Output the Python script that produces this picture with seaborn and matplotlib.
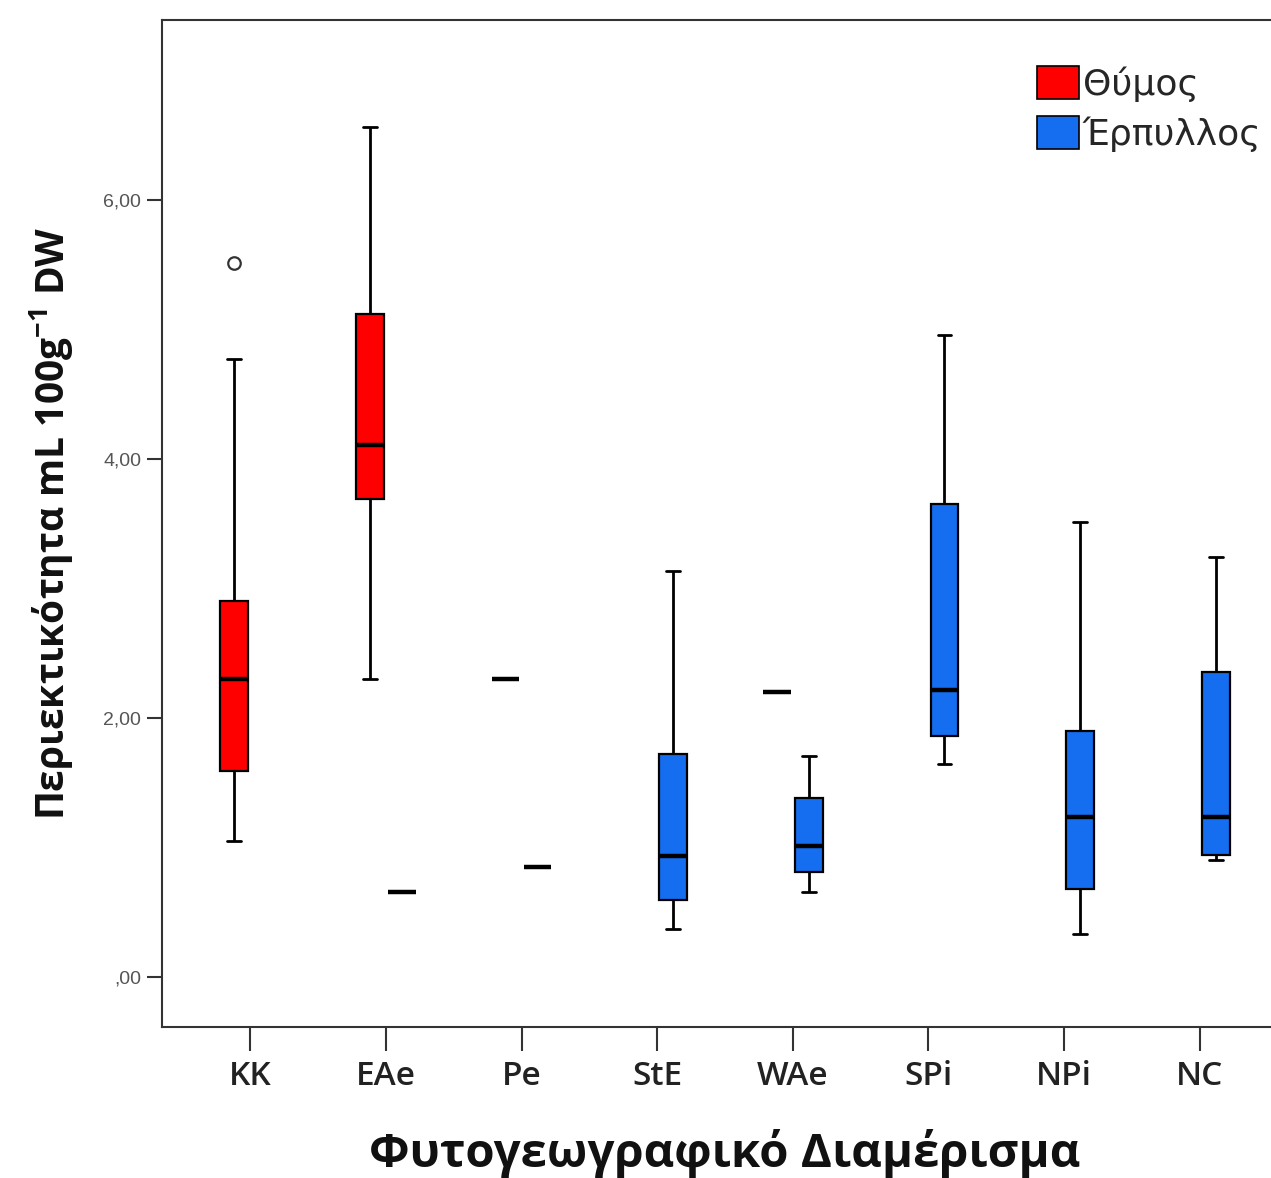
import pandas as pd
import matplotlib
matplotlib.use("Agg")
import matplotlib.pyplot as plt
import seaborn as sns

# Τιμές όπως διαβάζονται από το γράφημα (mL 100g-1 DW)
regions = ["KK", "EAe", "Pe", "StE", "WAe", "SPi", "NPi", "NC"]
species = ["Θύμος", "Έρπυλλος"]

kk_thymus = [1.05, 1.30, 1.59, 2.00, 2.30, 2.60, 2.90, 4.77, 5.51]
eae_thymus = [2.30, 3.69, 4.11, 5.12, 6.56]
eae_serpyllum = [0.65]
pe_thymus = [2.30]
pe_serpyllum = [0.85]
ste_serpyllum = [0.37, 0.59, 0.93, 1.72, 3.13]
wae_thymus = [2.20]
wae_serpyllum = [0.65, 0.81, 1.01, 1.38, 1.70]
spi_serpyllum = [1.64, 1.86, 2.21, 3.65, 4.96]
npi_serpyllum = [0.33, 0.68, 1.23, 1.90, 3.51]
nc_serpyllum = [0.90, 0.94, 1.23, 2.35, 3.24]

groups = [
    ("KK", "Θύμος", kk_thymus),
    ("EAe", "Θύμος", eae_thymus),
    ("EAe", "Έρπυλλος", eae_serpyllum),
    ("Pe", "Θύμος", pe_thymus),
    ("Pe", "Έρπυλλος", pe_serpyllum),
    ("StE", "Έρπυλλος", ste_serpyllum),
    ("WAe", "Θύμος", wae_thymus),
    ("WAe", "Έρπυλλος", wae_serpyllum),
    ("SPi", "Έρπυλλος", spi_serpyllum),
    ("NPi", "Έρπυλλος", npi_serpyllum),
    ("NC", "Έρπυλλος", nc_serpyllum),
]
rows = []
for reg, sp, vals in groups:
    for v in vals:
        rows.append({"region": reg, "species": sp, "value": v})
df = pd.DataFrame(rows)

sns.set_style("white")
plt.rcParams["font.family"] = ["Open Sans", "DejaVu Sans"]
plt.rcParams["mathtext.default"] = "regular"

fig = plt.figure(figsize=(12.71, 11.78), dpi=100)
ax = fig.add_axes([162 / 1271, 1 - 1027 / 1178, (1288 - 162) / 1271, (1027 - 20) / 1178])

palette = {"Θύμος": "#ff0000", "Έρπυλλος": "#156ef0"}
sns.boxplot(data=df, x="region", y="value", hue="species",
            order=regions, hue_order=species, palette=palette,
            width=0.47, gap=0.13, dodge=True, linecolor="black", linewidth=1.6,
            saturation=1,
            medianprops=dict(linewidth=3.2, color="black"),
            whiskerprops=dict(linewidth=2.0),
            capprops=dict(linewidth=2.0),
            flierprops=dict(marker="o", markersize=9, markerfacecolor="white",
                            markeredgecolor="#333333", markeredgewidth=1.6),
            ax=ax)

ax.set_xlim(-0.65, 7.65)
ax.set_ylim(-0.39, 7.39)
ax.set_yticks([0, 2, 4, 6])
ax.set_yticklabels([",00", "2,00", "4,00", "6,00"], fontfamily="Liberation Sans",
                   fontsize=14, color="#555555")
ax.tick_params(axis="y", length=11, width=1.5, color="#333333", pad=4, left=True)
ax.tick_params(axis="x", length=17, width=1.5, color="#333333", pad=7, bottom=True)
for lab in ax.get_xticklabels():
    lab.set_fontsize(24)
    lab.set_fontweight("semibold")
    lab.set_color("#222222")

for side in ["left", "bottom", "top"]:
    ax.spines[side].set_color("#333333")
    ax.spines[side].set_linewidth(1.5)
ax.spines["right"].set_visible(False)

ax.set_xlabel("Φυτογεωγραφικό Διαμέρισμα", fontsize=34, fontweight="bold",
              labelpad=26, color="#111111")
ax.set_ylabel("Περιεκτικότητα mL 100g$^{-1}$ DW", fontsize=28, fontweight="bold",
              labelpad=20, color="#111111")

handles, labels = ax.get_legend_handles_labels()
ax.get_legend().remove()
leg = fig.legend(handles, labels, loc="upper left",
                 bbox_to_anchor=(1037 / 1271, 1 - 66 / 1178),
                 frameon=False, prop={"family": "DejaVu Sans", "size": 26},
                 borderpad=0, borderaxespad=0, handlelength=1.15, handleheight=1.05,
                 handletextpad=0.12, labelspacing=0.38)
for h in leg.legend_handles:
    h.set_edgecolor("black")
    h.set_linewidth(1.2)

fig.savefig("out.png", dpi=100)
